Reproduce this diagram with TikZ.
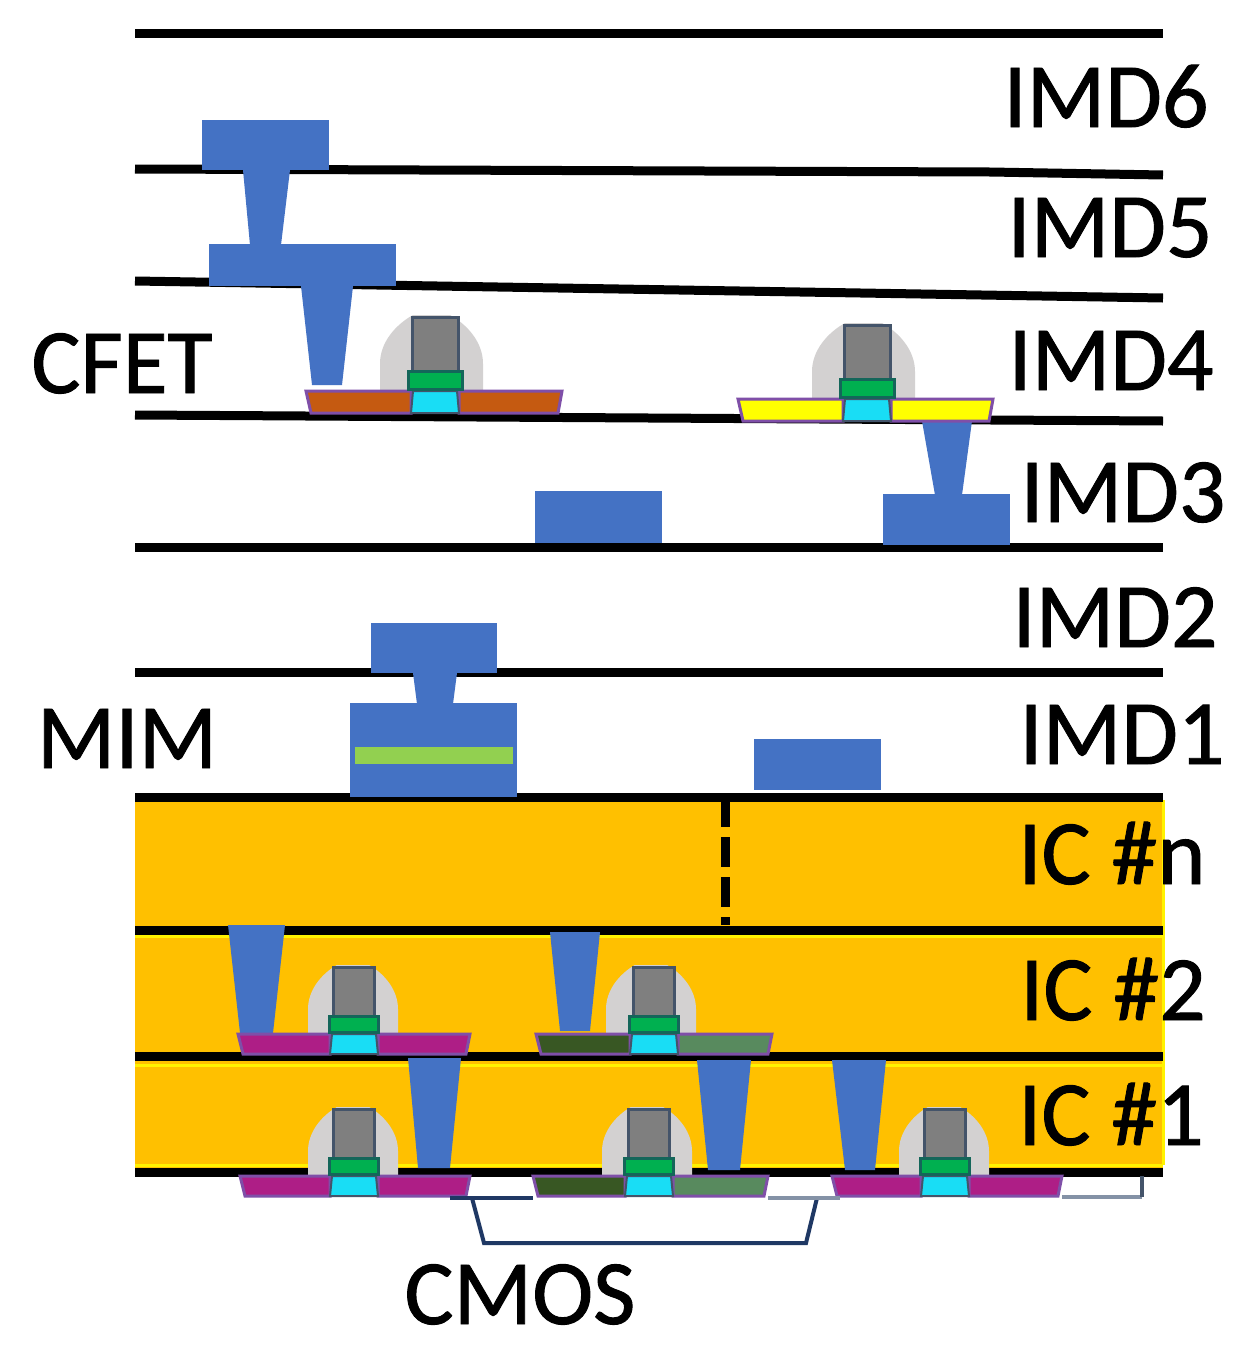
\documentclass[tikz,border=0pt]{standalone}
\usepackage{amsmath,amsfonts,amssymb}
\usepackage{xcolor}
\usepackage{fontspec}
\setmainfont{Carlito}
\newfontfamily\imdfont[FakeBold=1]{Carlito}
\definecolor{metalblue}{HTML}{4472C4}
\definecolor{icgold}{HTML}{FFC000}
\definecolor{micagreen}{HTML}{92D050}
\definecolor{domegray}{HTML}{D3D1D1}
\definecolor{gategray}{HTML}{7F7F7F}
\definecolor{gateedge}{HTML}{44546A}
\definecolor{capgreen}{HTML}{00B050}
\definecolor{capedge}{HTML}{14665A}
\definecolor{chancyan}{HTML}{19DDF5}
\definecolor{sdedge}{HTML}{7F4FA8}
\definecolor{sdorange}{HTML}{C55A11}
\definecolor{sdyellow}{HTML}{FFFF00}
\definecolor{sdmagenta}{HTML}{AE1E86}
\definecolor{sddark}{HTML}{385723}
\definecolor{sdlight}{HTML}{588A5E}
\definecolor{navyline}{HTML}{1F3864}
\definecolor{paleline}{HTML}{8492A6}
% centre x, bottom, half width, height
\newcommand{\devdome}[4]{%
    \begin{scope}[shift={(#1,#2)}, xscale=#3, yscale=#4]
        \fill[domegray] (-1,0) -- (-1,-.36) .. controls (-1,-.64) and (-.7,-.87) .. (-.36,-1)
            -- (.36,-1) .. controls (.7,-.87) and (1,-.64) .. (1,-.36) -- (1,0) -- cycle;
    \end{scope}
}
% gate x, top of source/drain, its height, left end, right end, scale, left colour, right colour
\newcommand{\devfet}[8]{%
    \fill[#7, draw=sdedge, line width=3pt] (#4,#2) -- (#1-24,#2) -- (#1-24,#2+#3) -- (#4+5,#2+#3) -- cycle;
    \fill[#8, draw=sdedge, line width=3pt] (#5,#2) -- (#1+24,#2) -- (#1+24,#2+#3) -- (#5-4,#2+#3) -- cycle;
    \fill[chancyan, draw=gateedge, line width=2pt] (#1-22,#2) -- (#1+22,#2) -- (#1+24,#2+#3) -- (#1-24,#2+#3) -- cycle;
    \begin{scope}[shift={(#1,#2)}, scale=#6]
        \fill[gategray, draw=gateedge, line width=3pt] (-23,-74) rectangle (23,-20);
        \fill[capgreen, draw=capedge, line width=3pt] (-27,-20) rectangle (27,-2);
    \end{scope}
}
\begin{document}
\begin{tikzpicture}[x=1pt,y=-1pt]
        \tikzset{metal style/.style = {fill=metalblue}}
        \tikzset{layer style/.style = {line width=9pt, black}}
        \tikzset{imd style/.style = {inner sep=0pt, anchor=base, font=\imdfont\fontsize{92}{92}\selectfont}}
        \useasboundingbox (0,0) rectangle (1253,1357);
        \fill[white] (0,0) rectangle (1253,1357);

        \fill[icgold] (135,800) rectangle (1163,1170);
        \draw[yellow, line width=3pt] (135,936) -- (1163,936) (135,1065) -- (1163,1065) (135,1165) -- (1163,1165) (1163,800) -- (1163,1165);

        \draw[layer style] (135,33) -- (1163,33);
        \draw[layer style] (135,169) -- (990,172) -- (1163,175);
        \draw[layer style] (135,281) -- (1163,298);
        \draw[layer style] (135,415) -- (1163,421);
        \draw[layer style] (135,547) -- (1163,547);
        \draw[layer style] (135,672) -- (1163,672);
        \draw[layer style] (135,797) -- (1163,797);
        \draw[layer style] (135,930) -- (1163,930);
        \draw[layer style] (135,1056) -- (1163,1056);
        \draw[layer style] (135,1172) -- (1163,1172);
        \draw[black, line width=9pt, dash pattern=on 30pt off 10pt] (725,797) -- (725,925);

        \fill[metal style] (202,120) rectangle (329,170);
        \fill[metal style] (243,170) -- (290,170) -- (281,245) -- (250,245) -- cycle;
        \fill[metal style] (209,244) rectangle (396,286);
        \fill[metal style] (301,286) -- (353,286) -- (342,385) -- (312,385) -- cycle;
        \fill[metal style] (922,421) -- (972,421) -- (962,495) -- (935,495) -- cycle;
        \fill[metal style] (883,494) rectangle (1010,545);
        \fill[metal style] (535,491) rectangle (662,543);
        \fill[metal style] (371,623) rectangle (497,673);
        \fill[metal style] (413,673) -- (457,673) -- (453,704) -- (417,704) -- cycle;
        \fill[metal style] (350,703) rectangle (517,797);
        \fill[micagreen] (355,747) rectangle (513,764);
        \fill[metal style] (754,739) rectangle (881,790);

        \fill[metal style] (228,925) -- (285,925) -- (273,1033) -- (240,1033) -- cycle;
        \fill[metal style] (550,932) -- (600,932) -- (590,1031) -- (560,1031) -- cycle;
        \fill[metal style] (408,1058) -- (461,1058) -- (450,1168) -- (418,1168) -- cycle;
        \fill[metal style] (697,1060) -- (751,1060) -- (740,1170) -- (708,1170) -- cycle;
        \fill[metal style] (832,1060) -- (886,1060) -- (875,1170) -- (845,1170) -- cycle;

        \devdome{431.5}{391}{51.5}{76}
        \devdome{863.5}{399}{51.5}{76}
        \devdome{353}{1034}{45}{69}
        \devdome{651}{1034}{45}{69}
        \devdome{353}{1176}{45}{69}
        \devdome{647}{1176}{45}{69}
        \devdome{944}{1176}{45}{69}
        \devfet{435}{391}{22}{306}{562}{1}{sdorange}{sdorange}
        \devfet{867}{399}{22}{738}{993}{1}{sdyellow}{sdyellow}
        \devfet{354}{1034}{20}{238}{470}{.9}{sdmagenta}{sdmagenta}
        \devfet{654}{1034}{20}{536}{772}{.9}{sddark}{sdlight}
        \devfet{354}{1176}{20}{240}{470}{.9}{sdmagenta}{sdmagenta}
        \devfet{649}{1176}{20}{533}{768}{.9}{sddark}{sdlight}
        \devfet{945}{1176}{20}{832}{1062}{.9}{sdmagenta}{sdmagenta}

        \draw[navyline, line width=4pt] (450,1198) -- (533,1198);
        \draw[navyline, line width=4pt] (472,1198) -- (484,1243) -- (806,1243) -- (817,1198);
        \draw[paleline, line width=4pt] (768,1198) -- (840,1198);
        \draw[paleline, line width=4pt] (1062,1197) -- (1142,1197);
        \draw[gateedge, line width=4pt] (1142,1176) -- (1142,1197);

        \node[imd style] (imdsix) at (1106,127) {IMD6};
        \node[imd style] (imdfive) at (1110,257) {IMD5};
        \node[imd style] (imdfour) at (1111,390) {IMD4};
        \node[imd style] (imdthree) at (1123,522) {IMD3};
        \node[imd style] (imdtwo) at (1115,647) {IMD2};
        \node[imd style] (imdone) at (1122,764) {IMD1};
        \node[imd style] (icn) at (1112,884) {IC \#n};
        \node[imd style] (ictwo) at (1113,1020) {IC \#2};
        \node[imd style] (icone) at (1111,1145) {IC \#1};
        \node[imd style] (cfet) at (122,393) {CFET};
        \node[imd style] (mim) at (127,768) {MIM};
        \node[imd style] (cmos) at (520,1324) {CMOS};
    \end{tikzpicture}
\end{document}
